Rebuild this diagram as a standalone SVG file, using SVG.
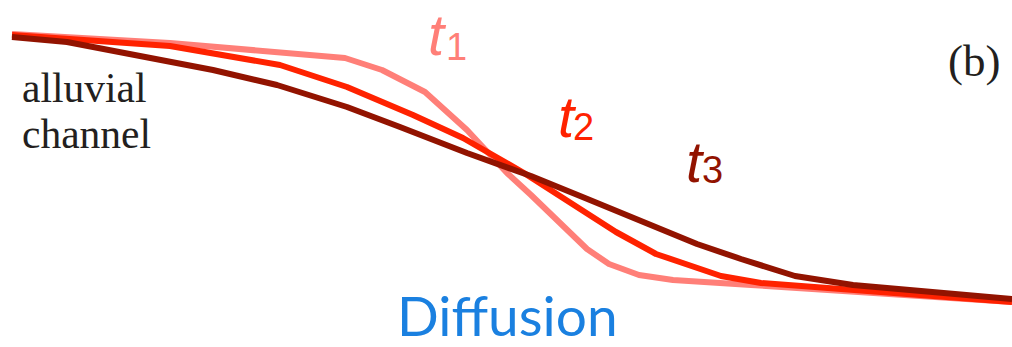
<svg xmlns="http://www.w3.org/2000/svg" width="1012" height="347" viewBox="0 0 1012 347">
  <style>
    .curve { fill: none; stroke-width: 6; stroke-linejoin: round; stroke-linecap: butt; }
    .serif { font-family: "Liberation Serif", "Times New Roman", serif; fill: #231f20; }
    .tlab { font-family: "Liberation Sans", Arial, sans-serif; }
    .tmain { font-style: italic; font-size: 58px; }
    .tsub { font-size: 38px; }
  </style>
  <rect width="1012" height="347" fill="#ffffff"/>
  <g id="profiles">
    <polyline id="profile-t1" class="curve" stroke="#ff7f78" points="12,34 170,43 345,58 382,70 425,92 467,130 507,173 531,195 587,249 609,264 639,275 673,280 751,285 1012,302"/>
    <polyline id="profile-t2" class="curve" stroke="#ff2200" points="12,35 170,46 280,65 347,87 413,115 463,138 524,173 616,232 656,254 721,276 761,283 1012,302"/>
    <polyline id="profile-t3" class="curve" stroke="#921300" points="12,37 67,42 213,70 277,85 347,107 400,127 467,153 531,176 585,198 697,244 741,259 795,276 853,285 1012,299"/>
  </g>
  <g id="label-channel">
    <text class="serif" x="22" y="102" font-size="41.5">alluvial</text>
    <text class="serif" x="22" y="148" font-size="41.5">channel</text>
  </g>
  <g id="label-b">
    <text class="serif" x="948" y="76" font-size="45">(b)</text>
  </g>
  <g id="label-t1" class="tlab" fill="#ff7f78">
    <text x="428" y="55" class="tmain">t</text>
    <text x="446" y="60" class="tsub">1</text>
  </g>
  <g id="label-t2" class="tlab" fill="#ff2200">
    <text x="558" y="137" class="tmain">t</text>
    <text x="573" y="140" class="tsub">2</text>
  </g>
  <g id="label-t3" class="tlab" fill="#921300">
    <text x="686" y="182" class="tmain">t</text>
    <text x="702" y="183" class="tsub">3</text>
  </g>
  <g id="label-diffusion">
    <text x="397" y="336" font-family="Lato, 'Open Sans', sans-serif" font-size="55" fill="#1a80e0">Diffusion</text>
  </g>
</svg>
